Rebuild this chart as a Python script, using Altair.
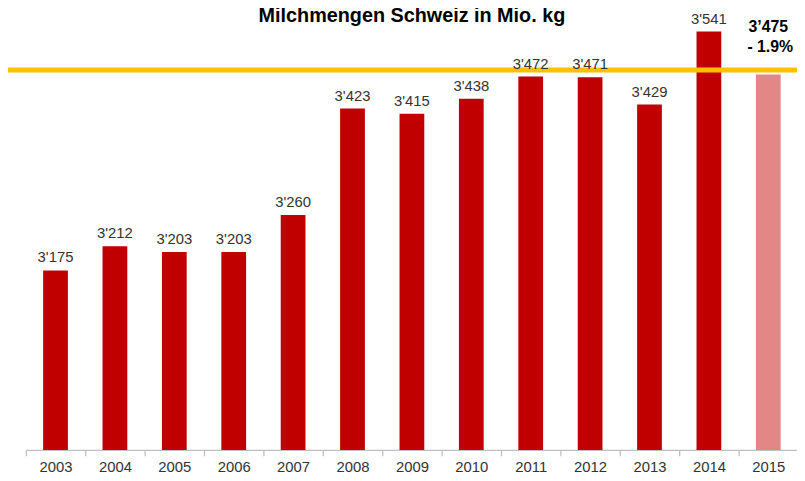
import altair as alt
import pandas as pd

years = ["2003", "2004", "2005", "2006", "2007", "2008", "2009", "2010",
         "2011", "2012", "2013", "2014", "2015"]
values = [3175, 3212, 3203, 3203, 3260, 3423, 3415, 3438, 3472, 3471, 3429, 3541, 3475]
labels = ["3'175", "3'212", "3'203", "3'203", "3'260", "3'423", "3'415", "3'438",
          "3'472", "3'471", "3'429", "3'541", ""]
kinds = ["actual"] * 12 + ["estimate"]
ref_line = 3482
note_value = "3\u2019475"
note_change = "- 1.9%"
title_text = "Milchmengen Schweiz in Mio. kg"

df = pd.DataFrame({"year": years, "value": values, "label": labels, "kind": kinds})

W, H = 779, 438
Y_MIN, Y_MAX = 2900, 3564.2

x = alt.X("year:N", sort=years, title=None,
          scale=alt.Scale(range=[0, 780], paddingInner=0, paddingOuter=0),
          axis=alt.Axis(labelAngle=0, labelFontSize=15, labelColor="#333333",
                        labelFont="Liberation Sans", labelPadding=4,
                        domainColor="#BFBFBF", domainWidth=1.3,
                        tickColor="#BFBFBF", tickSize=6, tickBand="extent",
                        tickWidth=1.3, grid=False))
y = alt.Y("value:Q", title=None,
          scale=alt.Scale(domain=[Y_MIN, Y_MAX], zero=False, nice=False),
          axis=None)

base = alt.Chart(df)

bars = base.mark_bar(size=25, clip=True).encode(
    x=x, y=y, y2=alt.datum(Y_MIN),
    color=alt.Color("kind:N", scale=alt.Scale(domain=["actual", "estimate"],
                                              range=["#C00000", "#E38686"]), legend=None),
)

line = alt.Chart(pd.DataFrame({"value": [ref_line]})).mark_rule(
    color="#FFC000", strokeWidth=5).encode(
    y=y, x=alt.value(-18), x2=alt.value(W + 5))

text = base.mark_text(baseline="bottom", dy=-5, fontSize=15,
                      font="Liberation Sans", color="#333333").encode(
    x=alt.X("year:N", sort=years), y=y, text="label:N")

note_df = pd.DataFrame({"t": [note_value], "year": ["2015"]})
note1 = alt.Chart(note_df).mark_text(
    fontSize=16, fontWeight="bold", font="Liberation Sans", color="#000000",
    baseline="middle").encode(
    x=alt.X("year:N", sort=years), y=alt.value(11), text="t:N")
note_df2 = pd.DataFrame({"t": [note_change], "year": ["2015"]})
note2 = alt.Chart(note_df2).mark_text(
    fontSize=16, fontWeight="bold", font="Liberation Sans", color="#000000",
    baseline="middle", dx=2).encode(
    x=alt.X("year:N", sort=years), y=alt.value(31), text="t:N")

title = alt.Chart(pd.DataFrame({"t": [title_text]})).mark_text(
    fontSize=20, fontWeight="bold", font="Liberation Sans", color="#000000",
    baseline="middle").encode(x=alt.value(390), y=alt.value(0), text="t:N")

chart = alt.layer(bars, line, text, note1, note2, title).properties(
    width=W, height=H,
    autosize=alt.AutoSizeParams(type="none"),
    padding={"left": 18, "top": 6, "right": 0, "bottom": 26},
).configure_view(stroke=None)

chart.save("out.html", embed_options={"renderer": "svg", "actions": False})
